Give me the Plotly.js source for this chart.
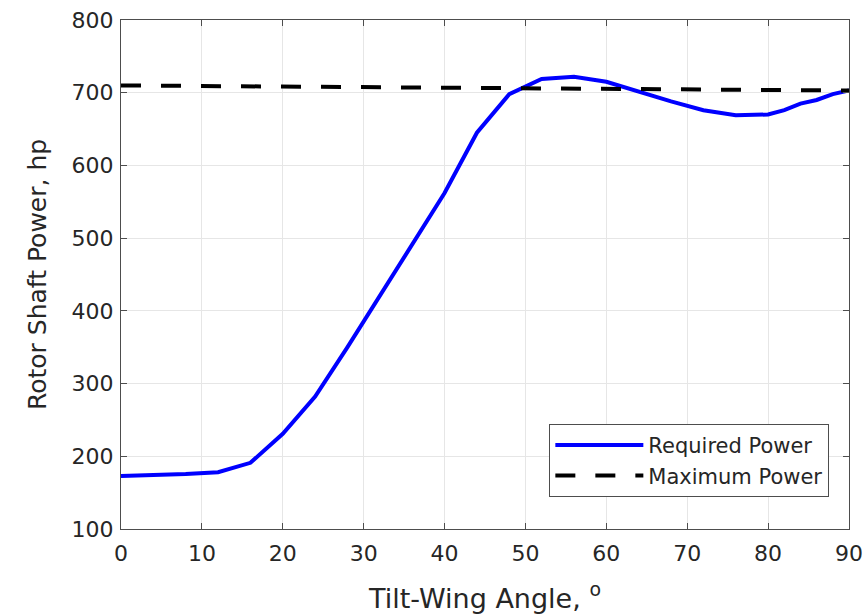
<!DOCTYPE html>
<html>
<head>
<meta charset="utf-8">
<script src="https://cdn.plot.ly/plotly-3.0.1.min.js"></script>
<style>html,body{margin:0;padding:0;background:#fff;}#chart{width:867px;height:615px;}</style>
</head>
<body>
<div id="chart"></div>
<script>
const tiltAngle = [0, 4, 8, 12, 16, 20, 24, 28, 32, 36, 40, 44, 48, 52, 56, 60, 64, 68, 72, 76, 80, 82, 84, 86, 88, 90];
const requiredPower = [173, 174, 175.5, 178, 191, 231, 282, 350, 420, 492, 562, 645, 698, 719, 722, 715, 701, 688, 676, 669, 670, 676, 685, 690, 698, 703];
const maxAngle = [0, 90];
const maximumPower = [710, 703];
const xTicks = [0, 10, 20, 30, 40, 50, 60, 70, 80, 90];
const yTicks = [100, 200, 300, 400, 500, 600, 700, 800];
const seriesNames = ["Required Power", "Maximum Power"];

const font = "DejaVu Sans, Verdana, sans-serif";
const textColor = "#262626";
const axisCommon = {
  showline: true, linecolor: "#4d4d4d", linewidth: 1, mirror: "ticks",
  ticks: "inside", ticklen: 6, tickcolor: "#4d4d4d",
  showgrid: true, gridcolor: "#e6e6e6", gridwidth: 1, zeroline: false,
  tickfont: {family: font, size: 22, color: textColor}
};

const traces = [
  {x: tiltAngle, y: requiredPower, type: "scatter", mode: "lines", name: seriesNames[0],
   line: {color: "#0000ff", width: 4}},
  {x: maxAngle, y: maximumPower, type: "scatter", mode: "lines", name: seriesNames[1],
   line: {color: "#000000", width: 4, dash: "20px,20px"}}
];

const layout = {
  width: 867, height: 615,
  margin: {l: 121, r: 18, t: 20, b: 86},
  paper_bgcolor: "#ffffff", plot_bgcolor: "#ffffff",
  showlegend: true,
  legend: {x: 0.973, y: 0.063, xanchor: "right", yanchor: "bottom",
    bgcolor: "#ffffff", bordercolor: "#4d4d4d", borderwidth: 1,
    font: {family: font, size: 21, color: textColor}, itemwidth: 88, tracegroupgap: 0},
  xaxis: Object.assign({}, axisCommon, {
    range: [0, 90], tickvals: xTicks, ticktext: xTicks.map(String), ticklabelstandoff: 5,
    title: {text: "Tilt-Wing Angle, <sup>o</sup>", font: {family: font, size: 27, color: textColor}, standoff: 23}
  }),
  yaxis: Object.assign({}, axisCommon, {
    range: [100, 800], tickvals: yTicks, ticktext: yTicks.map(String), ticklabelstandoff: 2,
    title: {text: "Rotor Shaft Power, hp", font: {family: font, size: 25, color: textColor}, standoff: 17}
  })
};

Plotly.newPlot("chart", traces, layout, {displayModeBar: false, staticPlot: true});
</script>
</body>
</html>
